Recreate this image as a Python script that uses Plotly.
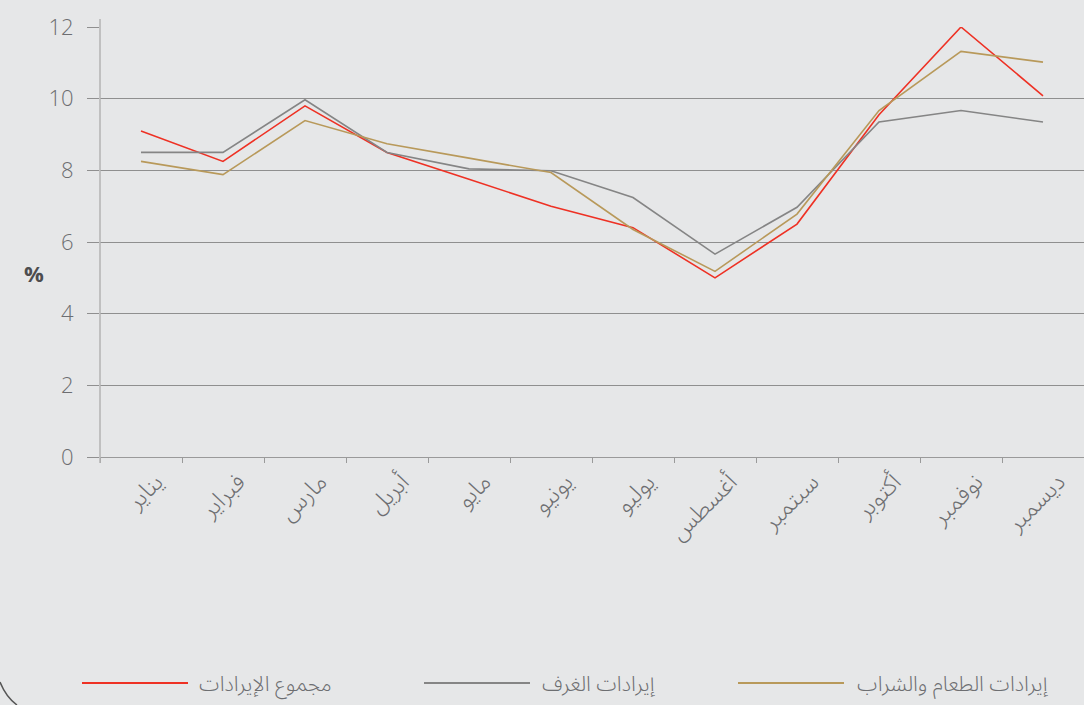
import plotly.graph_objects as go

months = ["يناير", "فبراير", "مارس", "أبريل", "مايو", "يونيو",
          "يوليو", "أغسطس", "سبتمبر", "أكتوبر", "نوفمبر", "ديسمبر"]

total_revenue = [9.1, 8.25, 9.8, 8.5, 7.75, 7.0, 6.4, 5.0, 6.5, 9.55, 12.0, 10.08]
rooms_revenue = [8.5, 8.5, 9.97, 8.5, 8.04, 7.99, 7.24, 5.66, 6.97, 9.35, 9.67, 9.35]
fnb_revenue = [8.25, 7.88, 9.39, 8.74, 8.34, 7.94, 6.35, 5.18, 6.78, 9.67, 11.32, 11.02]

series_names = ["مجموع الإيرادات", "إيرادات الغرف", "إيرادات الطعام والشراب"]
series_colors = ["#ee3124", "#858585", "#b8995a"]
series_values = [total_revenue, rooms_revenue, fnb_revenue]

y_ticks = [0, 2, 4, 6, 8, 10, 12]

FONT = "Noto Sans Arabic, Noto Sans, DejaVu Sans, sans-serif"

fig = go.Figure()
for name, color, vals in zip(series_names, series_colors, series_values):
    fig.add_trace(go.Scatter(x=months, y=vals, mode="lines", name=name,
                             line=dict(color=color, width=1.6),
                             showlegend=False))

W, H = 1084, 705
L, T, B = 100, 27, 248
PW, PH = W - L, H - T - B

def px(x):
    return (x - L) / PW

def py(y):
    return (H - B - y) / PH

shapes = []
annotations = []
# manual legend
legend_items = [(82, 188, 197), (424, 530, 540), (738, 844, 855)]
for (x0, x1, tx), name, color in zip(legend_items, series_names, series_colors):
    shapes.append(dict(type="line", xref="paper", yref="paper",
                       x0=px(x0), x1=px(x1), y0=py(683), y1=py(683),
                       line=dict(color=color, width=2)))
    annotations.append(dict(text=name, xref="paper", yref="paper",
                            x=px(tx), y=py(684), xanchor="left", yanchor="middle",
                            showarrow=False,
                            font=dict(family=FONT, size=21, color="#6d6e71", weight=300)))

# y axis vertical line
shapes.append(dict(type="line", xref="paper", yref="paper",
                   x0=0, x1=0, y0=py(19), y1=py(463),
                   line=dict(color="#b3b3b3", width=1.5), layer="above"))
# rounded frame corner at bottom left
shapes.append(dict(type="path", xref="paper", yref="paper",
                   path=f"M {px(0)} {py(682)} Q {px(6)} {py(697)} {px(17)} {py(705)}",
                   line=dict(color="#555555", width=1.5)))

annotations.append(dict(text="<b>%</b>", xref="paper", yref="paper",
                        x=px(34), y=py(273), xanchor="center", yanchor="middle",
                        showarrow=False,
                        font=dict(family="Open Sans, sans-serif", size=22, color="#4d4d4f")))

fig.update_layout(
    width=W, height=H,
    margin=dict(l=L, r=0, t=T, b=B),
    paper_bgcolor="#e6e7e8",
    plot_bgcolor="#e6e7e8",
    shapes=shapes,
    annotations=annotations,
    xaxis=dict(
        type="category",
        range=[-0.5, 11.5],
        showgrid=False,
        showline=True, linecolor="#9a9a9a", linewidth=1.2,
        ticks="outside", ticklen=5, tickcolor="#9a9a9a", tickson="boundaries",
        tickangle=-45,
        ticklabelshift=15,
        tickfont=dict(family=FONT, size=24, color="#6d6e71", weight=300),
        zeroline=False,
    ),
    yaxis=dict(
        range=[0, 12],
        tickvals=y_ticks,
        showgrid=True, gridcolor="#8f8f8f", gridwidth=1,
        ticks="outside", ticklen=12, tickcolor="#8f8f8f",
        ticklabelstandoff=9,
        tickfont=dict(family="Open Sans, sans-serif", size=22, color="#6d6e71", weight=300),
        zeroline=False,
        showline=False,
    ),
)

fig.write_html("out.html",
               config={"displayModeBar": False},
               post_script="document.body.style.margin='0';document.body.style.overflow='hidden';")
